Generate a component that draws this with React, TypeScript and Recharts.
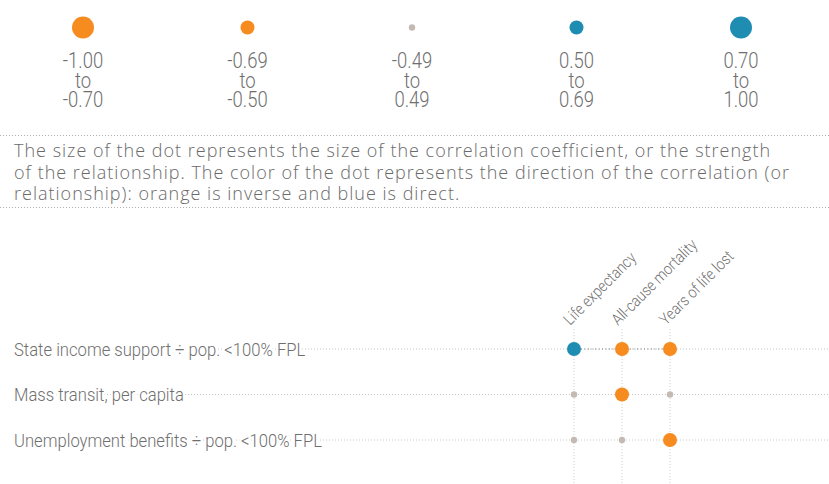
import React from "react";
import { ScatterChart, Scatter, XAxis, YAxis, CartesianGrid } from "recharts";

// ---------- data ----------
const COLUMNS = ["Life expectancy", "All-cause mortality", "Years of life lost"];
const ROWS = [
  "State income support ÷ pop. <100% FPL",
  "Mass transit, per capita",
  "Unemployment benefits ÷ pop. <100% FPL",
];
// correlation coefficient per row, one array per outcome column
const LIFE_EXPECTANCY = [0.58, 0.3, 0.25];
const ALL_CAUSE_MORTALITY = [-0.6, -0.6, -0.3];
const YEARS_OF_LIFE_LOST = [-0.6, -0.3, -0.6];
const HIGHLIGHT_ROW = 0;

const LEGEND_FROM = ["-1.00", "-0.69", "-0.49", "0.50", "0.70"];
const LEGEND_TO = ["-0.70", "-0.50", "0.49", "0.69", "1.00"];
const LEGEND_VALUES = [-0.85, -0.6, 0, 0.6, 0.85];

const NOTE_LINES = [
  "The size of the dot represents the size of the correlation coefficient, or the strength",
  "of the relationship. The color of the dot represents the direction of the correlation (or",
  "relationship): orange is inverse and blue is direct.",
];

// ---------- styles ----------
const ORANGE = "#F68B1F";
const BLUE = "#1F8DB2";
const GRAY = "#C4BAB3";
const TEXT = "#6f6f6f";
const FONT = "Roboto, 'Noto Sans', sans-serif";

const dotColor = (v: number) => (v <= -0.5 ? ORANGE : v >= 0.5 ? BLUE : GRAY);
const dotRadius = (v: number) => {
  const a = Math.abs(v);
  if (a >= 0.7) return 11;
  if (a >= 0.5) return 7;
  return 3.2;
};

const COLUMN_VALUES = [LIFE_EXPECTANCY, ALL_CAUSE_MORTALITY, YEARS_OF_LIFE_LOST];
const cells = COLUMN_VALUES.flatMap((vals, col) =>
  vals.map((value, row) => ({ col, row, value }))
);
const highlightCells = cells.filter((c) => c.row === HIGHLIGHT_ROW);
const legendData = LEGEND_VALUES.map((value, i) => ({ i, y: 1, value }));

// ---------- helpers ----------
type CTProps = {
  x: number;
  y: number;
  size: number;
  sx: number;
  rot?: number;
  anchor?: "start" | "middle" | "end";
  fill?: string;
  halo?: boolean;
  weight?: number;
  children: React.ReactNode;
};
// narrow-looking text: a regular face squeezed horizontally
const CondText = ({ x, y, size, sx, rot = 0, anchor = "start", fill = TEXT, halo, weight = 300, children }: CTProps) => (
  <g transform={`translate(${x} ${y}) rotate(${rot}) scale(${sx} 1)`}>
    <text
      x={0}
      y={0}
      fontSize={size}
      fontFamily={FONT}
      fontWeight={weight}
      fill={fill}
      textAnchor={anchor}
      stroke={halo ? "#fff" : undefined}
      strokeWidth={halo ? 5 : undefined}
      paintOrder={halo ? "stroke" : undefined}
    >
      {children}
    </text>
  </g>
);

// ---------- renderers ----------
const GridDot = (props: any) => {
  const { cx, cy, payload } = props;
  return <circle cx={cx} cy={cy} r={dotRadius(payload.value)} fill={dotColor(payload.value)} />;
};
const NoDot = () => <g />;

const LegendDot = (props: any) => {
  const { cx, cy, payload } = props;
  const i = payload.i;
  return (
    <g>
      <circle cx={cx} cy={cy} r={dotRadius(payload.value)} fill={dotColor(payload.value)} />
      <CondText x={cx} y={cy + 40} size={22} sx={0.84} anchor="middle">
        <tspan x={0} dy={0}>{LEGEND_FROM[i]}</tspan>
        <tspan x={0} dy={20}>to</tspan>
        <tspan x={0} dy={19.5}>{LEGEND_TO[i]}</tspan>
      </CondText>
    </g>
  );
};

const CHART_H = 269;
const ColTick = (props: any) => {
  const { x, payload } = props;
  return (
    <CondText x={x - 4} y={111} size={16} sx={0.87} rot={-45}>
      {COLUMNS[payload.value]}
    </CondText>
  );
};

const RowTick = (props: any) => {
  const { y, payload } = props;
  return (
    <CondText x={14} y={y + 6.7} size={18.5} sx={0.9} halo>
      {ROWS[payload.value]}
    </CondText>
  );
};

// grid lines reach past the plot area: rows run under the labels, columns down to the bottom
const RowLine = (props: any) => (
  <line x1={14} x2={829} y1={props.y1} y2={props.y1} stroke="#c8c8c8" strokeDasharray="1 2" />
);
const ColLine = (props: any) => (
  <line x1={props.x1} x2={props.x1} y1={114} y2={CHART_H} stroke="#cfcfcf" strokeDasharray="1 2" />
);

export default function App() {
  return (
    <div style={{ position: "absolute", left: 0, top: 0, width: 829, height: 484, background: "#fff" }}>
      <div style={{ position: "absolute", left: 0, top: 0 }}>
        <ScatterChart width={829} height={120} margin={{ top: 27.5, right: 88, bottom: 60, left: 83 }}>
          <XAxis type="number" dataKey="i" domain={[0, 4]} hide />
          <YAxis type="number" dataKey="y" domain={[0, 1]} hide />
          <Scatter data={legendData} shape={LegendDot} isAnimationActive={false} />
        </ScatterChart>
      </div>

      <svg
        width={829}
        height={484}
        style={{ position: "absolute", left: 0, top: 0, pointerEvents: "none" }}
      >
        <line x1={0} x2={829} y1={135.5} y2={135.5} stroke="#b0b0b0" strokeDasharray="1 2" />
        <line x1={0} x2={829} y1={207.5} y2={207.5} stroke="#b0b0b0" strokeDasharray="1 2" />
        <text fill="#6a6a6a" fontSize={18} fontWeight={300} letterSpacing={1} fontFamily="'Open Sans', sans-serif">
          {NOTE_LINES.map((line, k) => (
            <tspan key={k} x={14} y={157.3 + k * 21.5}>
              {line}
            </tspan>
          ))}
        </text>
      </svg>

      <div style={{ position: "absolute", left: 0, top: 215 }}>
        <ScatterChart width={829} height={CHART_H} margin={{ top: 100, right: 159, bottom: 44, left: 514 }}>
          <CartesianGrid horizontal={RowLine} vertical={ColLine} />
          <XAxis
            type="number"
            dataKey="col"
            domain={[0, 2]}
            ticks={[0, 1, 2]}
            interval={0}
            orientation="top"
            height={34}
            axisLine={false}
            tickLine={false}
            tick={<ColTick />}
          />
          <YAxis
            type="number"
            dataKey="row"
            domain={[0, 2]}
            ticks={[0, 1, 2]}
            interval={0}
            reversed
            width={60}
            axisLine={false}
            tickLine={false}
            tick={<RowTick />}
          />
          <Scatter
            data={highlightCells}
            shape={NoDot}
            line={{ stroke: "#7a7a7a", strokeDasharray: "1 2.5", strokeWidth: 1 }}
            lineType="joint"
            isAnimationActive={false}
          />
          <Scatter data={cells} shape={GridDot} isAnimationActive={false} />
        </ScatterChart>
      </div>
    </div>
  );
}
